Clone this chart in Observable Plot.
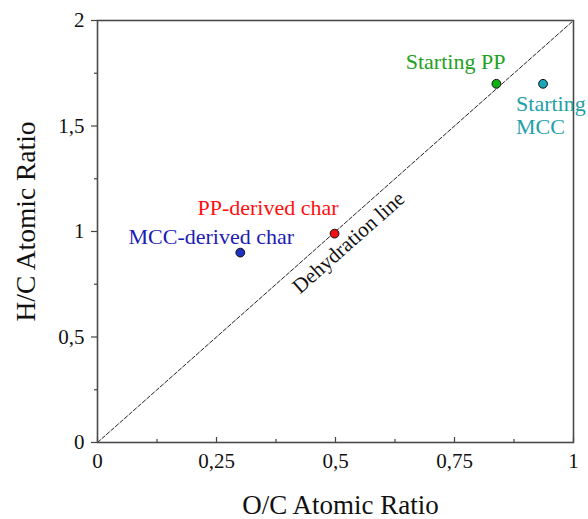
<!DOCTYPE html>
<html><head><meta charset="utf-8">
<script src="https://cdn.jsdelivr.net/npm/d3@7"></script>
<script src="https://cdn.jsdelivr.net/npm/@observablehq/plot@0.6"></script>
<style>
body{margin:0;background:#fff;}
svg{display:block;}
svg text, svg tspan{font-family:"Liberation Serif","Times New Roman",serif !important;}
</style>
</head><body><div id="chart"></div>
<script>
// ---- data ----
const samples = ["MCC-derived char", "PP-derived char", "Starting PP", "Starting MCC"];
const ocRatio = [0.30, 0.498, 0.838, 0.936];
const hcRatio = [0.90, 0.99, 1.70, 1.70];
const dehydrationOC = [0, 1];
const dehydrationHC = [0, 2];
const xTicks = [0, 0.25, 0.5, 0.75, 1];
const xMinorTicks = [0.125, 0.375, 0.625, 0.875];
const yTicks = [0, 0.5, 1, 1.5, 2];
const yMinorTicks = [0.25, 0.75, 1.25, 1.75];
const xTitle = "O/C Atomic Ratio";
const yTitle = "H/C Atomic Ratio";
const lineLabel = "Dehydration line";

// ---- styles ----
const dotFill = {"MCC-derived char": "#1f2fc0", "PP-derived char": "#f01010", "Starting PP": "#10b010", "Starting MCC": "#1aa8b8"};
const textFill = {"MCC-derived char": "#1c1cb4", "PP-derived char": "#ff1010", "Starting PP": "#22a022", "Starting MCC": "#22a0a8"};
const font = "Liberation Serif";
const fmt = d => String(d).replace(".", ",");

const points = samples.map((s, i) => ({name: s, x: ocRatio[i], y: hcRatio[i]}));
const linePts = dehydrationOC.map((x, i) => ({x, y: dehydrationHC[i]}));
const lineMid = [{x: d3.mean(dehydrationOC), y: d3.mean(dehydrationHC)}];
const pick = name => points.filter(d => d.name === name);

const W = 588, H = 519, mT = 20, mB = 77, mL = 97, mR = 15;
const plotH = H - mT - mB;

const labelOpts = {x: "x", y: "y", text: "name", fill: d => textFill[d.name], fontSize: 22, fontFamily: font, lineAnchor: "middle"};

const chart = Plot.plot({
  width: W, height: H,
  marginTop: mT, marginBottom: mB, marginLeft: mL, marginRight: mR,
  style: {fontFamily: font, background: "#fff", color: "#111"},
  x: {domain: [0, 1], axis: null},
  y: {domain: [0, 2], axis: null},
  marks: [
    Plot.line(linePts, {x: "x", y: "y", stroke: "#222", strokeWidth: 1, strokeDasharray: "4,2"}),
    Plot.ruleX(xTicks, {x: d => d, insetTop: plotH - 5, stroke: "#444", strokeWidth: 1.2}),
    Plot.ruleX(xMinorTicks, {x: d => d, insetTop: plotH - 3, stroke: "#444", strokeWidth: 1.2}),
    Plot.axisX(xTicks, {anchor: "bottom", label: null, tickSize: 0, tickPadding: 11, tickFormat: fmt, fontSize: 21, fontFamily: font, fill: "#111"}),
    Plot.axisY(yTicks, {anchor: "left", label: null, tickSize: 6, tickPadding: 7, tickFormat: fmt, fontSize: 21, fontFamily: font, fill: "#111", stroke: "#444", strokeWidth: 1.2}),
    Plot.axisY(yMinorTicks, {anchor: "left", label: null, tickSize: 3, tickFormat: () => "", stroke: "#444", strokeWidth: 1.2}),
    Plot.frame({stroke: "#4a4a4a", strokeWidth: 1.6}),
    Plot.dot(points, {x: "x", y: "y", r: 4.4, fill: d => dotFill[d.name], stroke: "#111", strokeWidth: 1}),
    Plot.text(pick("Starting PP"), {...labelOpts, textAnchor: "end", dx: 9, dy: -22}),
    Plot.text(pick("Starting MCC"), {...labelOpts, text: () => "Starting\nMCC", textAnchor: "start", lineAnchor: "top", lineHeight: 1.05, dx: -27, dy: 11}),
    Plot.text(pick("PP-derived char"), {...labelOpts, textAnchor: "end", dx: 4, dy: -26}),
    Plot.text(pick("MCC-derived char"), {...labelOpts, textAnchor: "middle", dx: -29, dy: -16}),
    Plot.text(lineMid, {x: "x", y: "y", text: () => lineLabel, rotate: -41.6, fontSize: 21, fontFamily: font, fill: "#111", dx: 13, dy: 11}),
    Plot.text([xTitle], {frameAnchor: "bottom", text: d => d, textAnchor: "middle", fontSize: 27, fontFamily: font, fill: "#111", lineAnchor: "middle", dx: 5, dy: 63}),
    Plot.text([yTitle], {frameAnchor: "left", text: d => d, textAnchor: "middle", rotate: -90, fontSize: 27.5, fontFamily: font, fill: "#111", lineAnchor: "middle", dx: -71, dy: -10})
  ]
});
document.getElementById("chart").appendChild(chart);
</script>
</body></html>
